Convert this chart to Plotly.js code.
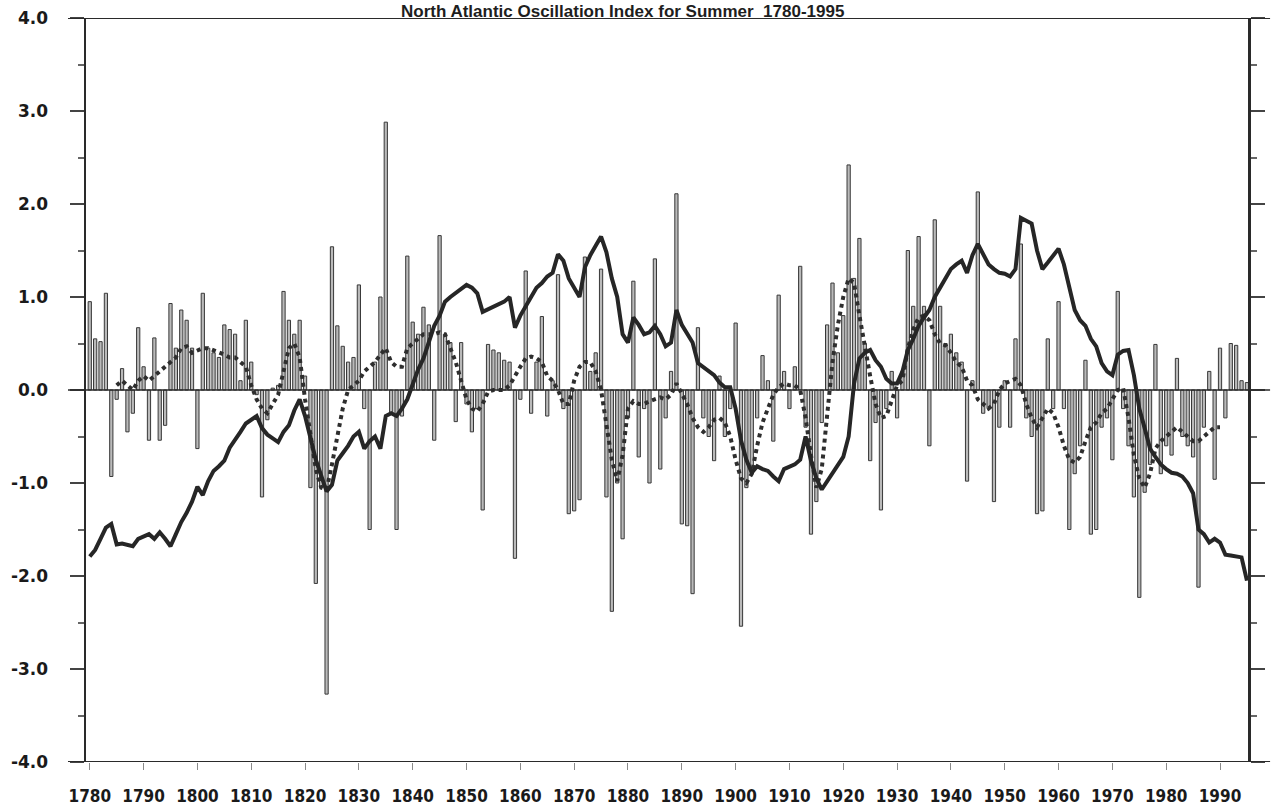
<!DOCTYPE html>
<html>
<head>
<meta charset="utf-8">
<script src="https://cdn.plot.ly/plotly-3.0.1.min.js"></script>
<style>html,body{margin:0;padding:0;background:#fff;}#chart{width:1276px;height:809px;}</style>
</head>
<body>
<div id="chart"></div>
<script>
// Yearly summer NAO index, 1780-1995
const years = [];
for (let y = 1780; y <= 1995; y++) years.push(y);
const annualIndex = [
  0.95, 0.55, 0.52, 1.04, -0.93, -0.10, 0.23, -0.45, -0.25, 0.67,
  0.25, -0.54, 0.56, -0.54, -0.38, 0.93, 0.45, 0.86, 0.75, 0.45,
  -0.63, 1.04, 0.45, 0.40, 0.35, 0.70, 0.65, 0.60, 0.10, 0.75,
  0.30, -0.05, -1.15, -0.32, 0.02, 0.05, 1.06, 0.75, 0.60, 0.75,
  0.15, -1.05, -2.08, -1.05, -3.27, 1.54, 0.69, 0.47, 0.30, 0.35,
  1.13, -0.20, -1.50, 0.30, 1.00, 2.88, -0.25, -1.50, -0.28, 1.44,
  0.73, 0.60, 0.89, 0.70, -0.54, 1.66, 0.60, 0.51, -0.34, 0.51,
  -0.15, -0.45, -0.20, -1.29, 0.49, 0.43, 0.40, 0.32, 0.30, -1.81,
  -0.10, 1.28, -0.25, 0.30, 0.79, -0.28, 0.10, 1.24, -0.20, -1.33,
  -1.30, -1.18, 1.43, 0.20, 0.40, 1.30, -1.15, -2.38, -1.00, -1.60,
  -0.30, 1.17, -0.72, -0.20, -1.00, 1.41, -0.85, -0.30, 0.20, 2.11,
  -1.44, -1.46, -2.19, 0.67, -0.30, -0.50, -0.76, 0.15, -0.50, -0.20,
  0.72, -2.54, -1.05, -0.90, -0.30, 0.37, 0.10, -0.55, 1.02, 0.20,
  -0.20, 0.25, 1.33, -0.40, -1.55, -1.20, -0.35, 0.70, 1.15, 0.40,
  0.80, 2.42, 1.20, 1.63, 0.50, -0.76, -0.35, -1.29, -0.20, 0.20,
  -0.30, 0.20, 1.50, 0.90, 1.65, 0.90, -0.60, 1.83, 0.90, 0.50,
  0.60, 0.40, 0.30, -0.98, 0.10, 2.13, -0.25, -0.20, -1.20, -0.40,
  0.10, -0.40, 0.55, 1.57, -0.30, -0.50, -1.33, -1.30, 0.55, -0.20,
  0.95, -0.20, -1.50, -0.90, -0.60, 0.32, -1.55, -1.50, -0.40, -0.30,
  -0.75, 1.06, -0.20, -0.60, -1.15, -2.23, -1.10, -0.80, 0.49, -0.90,
  -0.60, -0.70, 0.34, -0.50, -0.60, -0.72, -2.12, -0.40, 0.20, -0.96,
  0.45, -0.30, 0.50, 0.48, 0.10, 0.08
];

// Long-term smoothed curve (thick solid line)
const longYears = [];
for (let y = 1780; y <= 1995; y++) longYears.push(y);
const longSmooth = [
  -1.79, -1.72, -1.60, -1.48, -1.44, -1.66, -1.65, -1.66, -1.68, -1.60,
  -1.58, -1.55, -1.60, -1.53, -1.60, -1.68, -1.55, -1.42, -1.32, -1.20,
  -1.04, -1.13, -0.98, -0.87, -0.82, -0.76, -0.62, -0.54, -0.45, -0.36,
  -0.32, -0.28, -0.41, -0.48, -0.52, -0.56, -0.45, -0.38, -0.22, -0.10,
  -0.28, -0.50, -0.75, -0.92, -1.09, -1.02, -0.76, -0.68, -0.60, -0.50,
  -0.45, -0.63, -0.55, -0.50, -0.63, -0.28, -0.25, -0.28, -0.20, -0.10,
  0.05, 0.22, 0.34, 0.52, 0.69, 0.80, 0.95, 1.00, 1.04, 1.08,
  1.13, 1.10, 1.04, 0.84, 0.87, 0.89, 0.92, 0.95, 1.00, 0.67,
  0.80, 0.91, 1.00, 1.10, 1.15, 1.22, 1.26, 1.46, 1.39, 1.20,
  1.10, 1.00, 1.32, 1.45, 1.55, 1.65, 1.48, 1.20, 1.00, 0.60,
  0.51, 0.78, 0.70, 0.60, 0.62, 0.69, 0.60, 0.47, 0.51, 0.86,
  0.70, 0.60, 0.51, 0.29, 0.25, 0.20, 0.16, 0.08, 0.03, 0.03,
  -0.20, -0.54, -0.75, -0.89, -0.82, -0.85, -0.87, -0.93, -0.98, -0.85,
  -0.82, -0.80, -0.75, -0.50, -0.76, -0.95, -1.07, -0.98, -0.89, -0.80,
  -0.72, -0.50, 0.07, 0.34, 0.40, 0.43, 0.32, 0.25, 0.12, 0.07,
  0.07, 0.20, 0.43, 0.55, 0.69, 0.78, 0.86, 1.00, 1.10, 1.22,
  1.30, 1.35, 1.39, 1.26, 1.45, 1.57, 1.45, 1.35, 1.30, 1.26,
  1.25, 1.22, 1.30, 1.85, 1.82, 1.79, 1.50, 1.30, 1.37, 1.45,
  1.52, 1.35, 1.10, 0.86, 0.75, 0.69, 0.55, 0.47, 0.29, 0.20,
  0.16, 0.38, 0.42, 0.43, 0.16, -0.20, -0.41, -0.63, -0.72, -0.80,
  -0.85, -0.89, -0.90, -0.93, -1.00, -1.11, -1.50, -1.55, -1.64, -1.60,
  -1.64, -1.77, -1.78, -1.79, -1.80, -2.05
];

// Shorter running mean (dotted line)
const shortYears = [];
for (let y = 1785; y <= 1990; y++) shortYears.push(y);
const shortSmooth = [
  0.05, 0.10, 0.05, 0.00, 0.10,
  0.15, 0.10, 0.15, 0.20, 0.25, 0.30, 0.35, 0.45, 0.47, 0.40,
  0.42, 0.45, 0.45, 0.43, 0.40, 0.38, 0.35, 0.35, 0.30, 0.25,
  0.05, -0.10, -0.20, -0.25, -0.15, -0.05, 0.20, 0.45, 0.50, 0.35,
  -0.10, -0.50, -0.85, -1.05, -1.07, -0.80, -0.50, -0.20, 0.00, 0.05,
  0.10, 0.20, 0.25, 0.30, 0.38, 0.45, 0.30, 0.25, 0.25, 0.45,
  0.50, 0.55, 0.60, 0.60, 0.60, 0.62, 0.60, 0.45, 0.30, 0.10,
  -0.10, -0.20, -0.23, -0.15, -0.02, 0.00, 0.00, 0.00, 0.05, 0.16,
  0.25, 0.34, 0.36, 0.34, 0.30, 0.15, 0.10, 0.00, -0.15, -0.15,
  0.10, 0.25, 0.30, 0.30, 0.20, 0.00, -0.40, -0.75, -0.98, -0.70,
  -0.20, -0.12, -0.15, -0.15, -0.12, -0.10, -0.08, -0.10, -0.05, 0.07,
  -0.05, -0.15, -0.30, -0.40, -0.45, -0.40, -0.32, -0.30, -0.35, -0.50,
  -0.75, -0.95, -1.00, -0.90, -0.60, -0.35, -0.20, -0.05, 0.03, 0.07,
  0.05, 0.05, 0.00, -0.30, -0.70, -1.05, -0.85, -0.30, 0.30, 0.70,
  1.00, 1.20, 1.15, 0.80, 0.45, 0.15, -0.15, -0.30, -0.28, -0.10,
  0.05, 0.10, 0.45, 0.65, 0.78, 0.80, 0.75, 0.60, 0.50, 0.48,
  0.40, 0.30, 0.25, 0.10, 0.05, -0.10, -0.15, -0.20, -0.15, 0.00,
  0.07, 0.10, 0.12, 0.05, -0.15, -0.30, -0.40, -0.30, -0.20, -0.25,
  -0.40, -0.60, -0.75, -0.78, -0.72, -0.55, -0.40, -0.35, -0.25, -0.20,
  -0.10, 0.00, 0.02, -0.30, -0.70, -0.95, -1.05, -0.90, -0.63, -0.55,
  -0.50, -0.45, -0.40, -0.45, -0.50, -0.55, -0.55, -0.50, -0.45, -0.40,
  -0.40
];

const decadeTicks = [1780,1790,1800,1810,1820,1830,1840,1850,1860,1870,1880,1890,1900,1910,1920,1930,1940,1950,1960,1970,1980,1990];
const yTicks = [-4,-3,-2,-1,0,1,2,3,4];
const yTickText = ['-4.0','-3.0','-2.0','-1.0','0.0','1.0','2.0','3.0','4.0'];
const titleText = 'North Atlantic Oscillation Index for Summer  1780-1995';

const traces = [
  {
    type: 'bar', x: years, y: annualIndex, width: 0.6,
    marker: {color: 'rgba(140,140,140,0.6)', line: {color: '#383838', width: 1}},
    hoverinfo: 'x+y', showlegend: false
  },
  {
    type: 'scatter', mode: 'lines', x: shortYears, y: shortSmooth,
    line: {color: '#2e2e2e', width: 4, dash: 'dot'}, showlegend: false
  },
  {
    type: 'scatter', mode: 'lines', x: longYears, y: longSmooth,
    line: {color: '#262626', width: 4}, showlegend: false
  }
];

const lineShape = (yv, w) => ({
  type: 'line', xref: 'paper', yref: 'y', x0: -0.0155, x1: 1.019, y0: yv, y1: yv,
  line: {color: '#2a2a2a', width: w}
});

const layout = {
  width: 1276, height: 809,
  paper_bgcolor: '#ffffff', plot_bgcolor: '#ffffff',
  margin: {l: 86, r: 28, t: 18, b: 47, pad: 0},
  title: {
    text: titleText, x: 0.488, xanchor: 'center', y: 0.9864, yanchor: 'middle',
    font: {family: 'Arial, Liberation Sans, sans-serif', size: 17, color: '#1e1e1e', weight: 'bold'}
  },
  bargap: 0,
  xaxis: {
    range: [1779.3, 1995.2],
    tickvals: decadeTicks, ticktext: decadeTicks.map(String),
    ticks: 'outside', ticklen: 7, tickwidth: 1, tickcolor: '#8a8a8a',
    ticklabelstandoff: 12,
    showline: false, zeroline: false, showgrid: false,
    tickfont: {family: 'Liberation Sans Narrow, Arial Narrow, DejaVu Sans Condensed, sans-serif', size: 17, color: '#1a1a1a', weight: 'bold'}
  },
  yaxis: {
    range: [-4, 4],
    tickvals: yTicks, ticktext: yTickText,
    ticks: 'outside', ticklen: 14, tickwidth: 2, tickcolor: '#444',
    ticklabelstandoff: 18,
    minor: {tickvals: [-3.5,-2.5,-1.5,-0.5,0.5,1.5,2.5,3.5], ticks: 'outside', ticklen: 6, tickwidth: 2, tickcolor: '#666'},
    showline: true, linecolor: '#2a2a2a', linewidth: 2.5, mirror: 'ticks',
    zeroline: false, showgrid: false,
    tickfont: {family: 'DejaVu Sans, sans-serif', size: 17, color: '#1a1a1a', weight: 'bold'}
  },
  shapes: [lineShape(4, 2), lineShape(-4, 2), lineShape(0, 1.5)]
};

Plotly.newPlot('chart', traces, layout, {displayModeBar: false, staticPlot: true});
</script>
</body>
</html>
